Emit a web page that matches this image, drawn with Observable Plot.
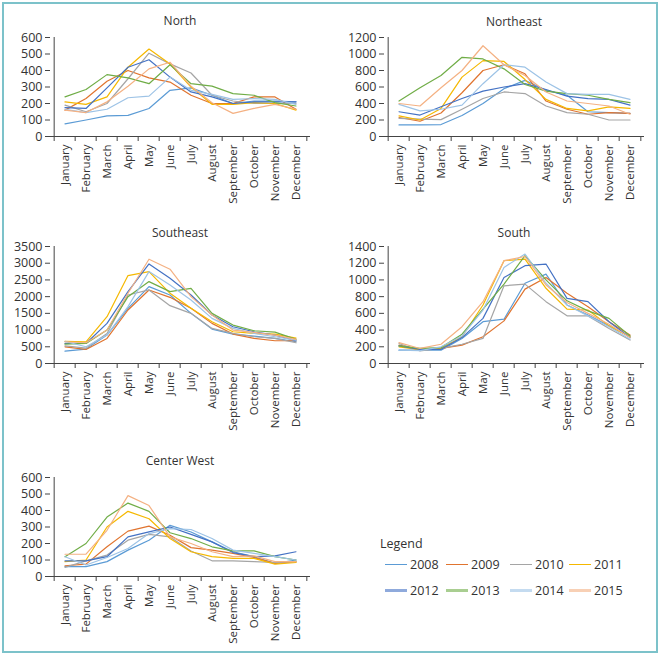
<!DOCTYPE html>
<html>
<head>
<meta charset="utf-8">
<script src="https://cdn.jsdelivr.net/npm/d3@7"></script>
<script src="https://cdn.jsdelivr.net/npm/@observablehq/plot@0.6"></script>
<style>
  body { margin: 0; background: #fff; }
  #wrap { position: relative; width: 666px; height: 656px; font-family: "Open Sans", sans-serif; color: #333; }
  #frame { position: absolute; left: 2px; top: 2px; width: 652px; height: 647px; border: 2px solid #7cc2ca; }
  .title { position: absolute; font-size: 12px; transform: translate(-50%, -50%); white-space: nowrap; color: #333; }
  .panel { position: absolute; }
  .legend-title { position: absolute; left: 380px; top: 535px; font-size: 12.5px; }
  .leg { position: absolute; font-size: 12.5px; display: flex; align-items: center; }
  .leg span.sw { display: inline-block; width: 22px; margin-right: 3px; }
</style>
</head>
<body>
<div id="wrap"><div id="frame"></div></div>
<script>
const months = ["January","February","March","April","May","June","July","August","September","October","November","December"];
const years = ["2008","2009","2010","2011","2012","2013","2014","2015"];
const colors = ["#5b9bd5","#e0742f","#a5a5a5","#f5b800","#4472c4","#70ad47","#9dc3e6","#f4b183"];

// rows = years 2008..2015, columns = January..December
const north = [
  [76,100,125,128,170,280,295,250,200,215,215,210],
  [160,230,335,400,355,330,250,200,200,240,240,165],
  [190,150,200,350,505,440,385,250,215,200,200,200],
  [210,195,240,420,530,440,300,195,195,205,200,160],
  [175,170,295,420,465,360,270,240,200,210,210,210],
  [240,285,375,355,320,435,320,305,260,250,205,185],
  [165,145,165,235,245,360,280,255,225,230,225,195],
  [160,145,210,305,410,450,305,205,140,170,195,165]
];
const northeast = [
  [140,140,145,255,400,580,680,560,500,300,290,280],
  [230,185,285,530,800,870,760,430,330,270,290,280],
  [220,210,205,330,460,540,520,370,290,270,200,200],
  [250,200,340,720,920,910,690,450,340,310,360,340],
  [300,260,360,460,550,600,640,570,490,460,450,380],
  [430,590,740,960,940,820,630,550,520,500,450,410],
  [390,310,330,380,640,870,840,660,520,510,510,450],
  [400,370,590,800,1100,870,740,540,430,400,370,270]
];
const southeast = [
  [370,430,850,1650,2300,2050,1500,1030,880,820,750,650],
  [500,420,750,1600,2200,1980,1650,1200,880,750,680,680],
  [530,460,900,2050,2200,1730,1500,1050,900,800,750,620],
  [660,650,1400,2630,2750,2100,1650,1250,950,900,880,760],
  [600,600,1200,2150,2980,2550,2050,1450,1100,950,850,680],
  [580,600,1000,2000,2450,2150,2250,1500,1150,980,940,720],
  [660,500,850,1700,2750,2350,1900,1350,1050,900,800,700],
  [650,620,1000,2100,3120,2820,2000,1450,1000,930,850,720]
];
const south = [
  [160,160,160,300,500,530,960,1070,700,580,450,320],
  [220,170,180,220,320,510,890,1030,840,680,500,340],
  [240,150,180,230,300,930,950,740,570,570,420,280],
  [200,165,180,320,700,1230,1250,900,650,640,450,320],
  [210,170,170,310,540,1030,1170,1190,780,740,500,310],
  [210,180,190,350,650,950,1290,1000,750,630,540,330],
  [160,155,200,330,640,1150,1310,960,700,570,440,290],
  [250,180,230,440,740,1230,1280,940,730,600,470,310]
];
const centerWest = [
  [60,60,90,160,220,310,270,210,150,120,80,100],
  [65,75,180,275,305,250,175,160,140,115,80,90],
  [55,95,130,220,255,240,155,95,95,90,85,90],
  [90,100,300,395,350,230,150,120,110,110,75,85],
  [95,95,120,240,270,300,255,210,145,120,125,150],
  [120,200,360,445,395,265,230,180,155,155,120,100],
  [120,70,115,170,260,290,285,230,160,140,120,100],
  [135,135,280,490,430,240,200,150,120,125,90,90]
];

const panels = [
  {name: "North", rows: north, yMax: 600, step: 100, left: 0, top: 27, plotH: 99, titleX: 180, titleY: 20},
  {name: "Northeast", rows: northeast, yMax: 1200, step: 200, left: 334, top: 27, plotH: 99, titleX: 514, titleY: 21},
  {name: "Southeast", rows: southeast, yMax: 3500, step: 500, left: 0, top: 236, plotH: 117, titleX: 180, titleY: 232},
  {name: "South", rows: south, yMax: 1400, step: 200, left: 334, top: 236, plotH: 117, titleX: 514, titleY: 232},
  {name: "Center West", rows: centerWest, yMax: 600, step: 100, left: 0, top: 467, plotH: 99, titleX: 180, titleY: 460}
];

const wrap = document.getElementById("wrap");
const mL = 50, mR = 20, mT = 10, mB = 75, W = 330;
const bw = (W - mL - mR) / 12;

for (const p of panels) {
  const data = [];
  p.rows.forEach((row, i) => row.forEach((v, j) => data.push({year: years[i], month: months[j], value: v})));
  const chart = Plot.plot({
    width: W,
    height: p.plotH + mT + mB,
    marginLeft: mL, marginRight: mR, marginTop: mT, marginBottom: mB,
    style: {fontFamily: "Open Sans, sans-serif", fontSize: "11.5px", color: "#333", background: "transparent", overflow: "visible"},
    x: {type: "band", domain: months, padding: 0, label: null},
    y: {domain: [0, p.yMax], label: null},
    color: {domain: years, range: colors},
    marks: [
      Plot.axisY({ticks: d3.range(0, p.yMax + 1, p.step), tickFormat: d3.format("d"), tickSize: 5, tickPadding: 3, label: null, stroke: "#444", fontSize: 12.5}),
      Plot.axisX({tickSize: 0, tickPadding: 8, tickRotate: -90, label: null}),
      Plot.axisX({tickSize: 5, tickFormat: () => "", dx: -bw / 2, label: null, stroke: "#444"}),
      Plot.axisX({ticks: [months[11]], tickSize: 5, tickFormat: () => "", dx: bw / 2, label: null, stroke: "#444"}),
      Plot.ruleY([0], {stroke: "#444"}),
      Plot.ruleX([months[0]], {dx: -bw / 2, stroke: "#444"}),
      Plot.lineY(data, {x: "month", y: "value", stroke: "year", z: "year", strokeWidth: 1.2})
    ]
  });
  chart.classList.add("panel");
  chart.style.left = p.left + "px";
  chart.style.top = p.top + "px";
  wrap.appendChild(chart);
  const t = document.createElement("div");
  t.className = "title";
  t.textContent = p.name;
  t.style.left = p.titleX + "px";
  t.style.top = p.titleY + "px";
  wrap.appendChild(t);
}

// legend
const lt = document.createElement("div");
lt.className = "legend-title";
lt.textContent = "Legend";
wrap.appendChild(lt);
const colX = [385, 446, 510, 569];
const rowY = [564, 590];
years.forEach((y, i) => {
  const r = Math.floor(i / 4), c = i % 4;
  const d = document.createElement("div");
  d.className = "leg";
  d.style.left = colX[c] + "px";
  d.style.top = (rowY[r] - 9) + "px";
  d.style.height = "18px";
  const sw = document.createElement("span");
  sw.className = "sw";
  sw.style.borderTop = (r === 0 ? 1.2 : 3) + "px solid " + colors[i];
  if (r === 1) sw.style.opacity = 0.6;
  d.appendChild(sw);
  const tx = document.createElement("span");
  tx.textContent = y;
  d.appendChild(tx);
  wrap.appendChild(d);
});
</script>
</body>
</html>
